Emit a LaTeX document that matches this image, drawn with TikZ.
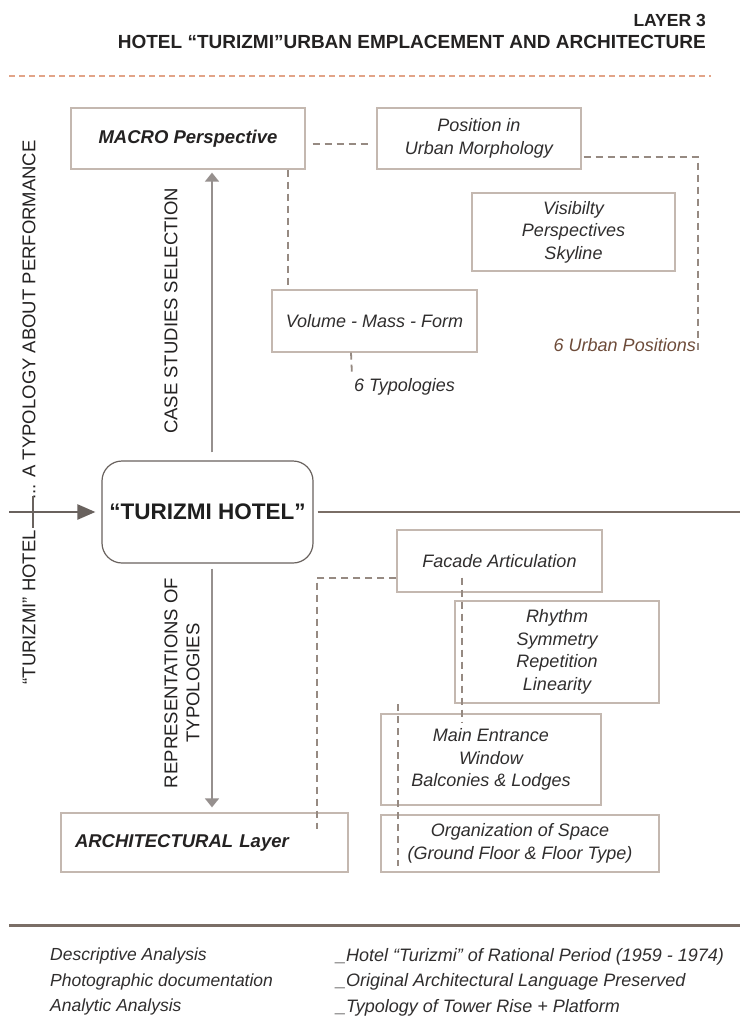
\documentclass[tikz,border=0pt]{standalone}
\usepackage{fontspec}
\setmainfont{Liberation Sans}
\usetikzlibrary{calc,arrows.meta}
\definecolor{boxc}{RGB}{196,184,176}
\definecolor{textc}{RGB}{48,46,46}
\definecolor{vtextc}{RGB}{36,34,34}
\definecolor{dashc}{RGB}{150,138,130}
\definecolor{topdash}{RGB}{226,164,136}
\definecolor{arrc}{RGB}{150,144,142}
\definecolor{darkarr}{RGB}{105,98,94}
\definecolor{linec}{RGB}{122,110,102}
\definecolor{brownt}{RGB}{110,76,58}
\tikzset{
  box/.style={draw=boxc,line width=1.3pt,inner sep=0pt,text=textc,
    font=\itshape\fontsize{18}{22.5}\selectfont,align=center},
  dashconn/.style={draw=dashc,line width=1.8pt,dash pattern=on 7pt off 5pt},
  vtext/.style={rotate=90,text=vtextc,font=\fontsize{18.5}{22}\selectfont,inner sep=0pt},
  bottomtext/.style={text=textc,font=\itshape\fontsize{17.5}{25.5}\selectfont,align=left,inner sep=0pt},
  uparrow/.style={draw=arrc,line width=1.8pt,-{Triangle[width=14pt,length=9pt]}},
}
\begin{document}
\begin{tikzpicture}[x=1pt,y=-1pt]
\useasboundingbox[fill=white] (0,0) rectangle (740,1019);
% title
\node[anchor=east,inner sep=0pt,text=vtextc,font=\bfseries\fontsize{17.5}{20}\selectfont] (t1) at (706,20) {LAYER 3};
\node[anchor=east,inner sep=0pt,text=vtextc,font=\bfseries\fontsize{19}{20}\selectfont] (t2) at (706,42) {HOTEL “TURIZMI”URBAN EMPLACEMENT AND ARCHITECTURE};
\coordinate (td1) at (9,76);
\coordinate (td2) at (711,76);
\draw[draw=topdash,line width=1.5pt,dash pattern=on 6pt off 4pt] (td1) -- (td2);

% boxes
\node[box,minimum width=234pt,minimum height=61pt,text=vtextc,font=\bfseries\itshape\fontsize{18.5}{22}\selectfont] (macro) at (188,138.5) {MACRO Perspective};
\node[box,minimum width=204pt,minimum height=61pt] (pos) at (479,138.5) {Position in\\Urban Morphology};
\node[box,minimum width=203pt,minimum height=78pt] (vis) at (573.5,232) {Visibilty\\Perspectives\\Skyline};
\node[box,minimum width=205pt,minimum height=62pt] (vol) at (374.5,321) {Volume - Mass - Form};
\node[anchor=west,inner sep=0pt,text=textc,font=\itshape\fontsize{18}{22}\selectfont] (typ) at (354,387) {6 Typologies};
\node[anchor=east,inner sep=0pt,text=brownt,font=\itshape\fontsize{18}{22}\selectfont] (urb) at (696,345) {6 Urban Positions};

\node[draw=darkarr,line width=1.2pt,rounded corners=20pt,minimum width=211pt,minimum height=102pt,inner sep=0pt,text=black!88,font=\bfseries\fontsize{22.5}{26}\selectfont] (tur) at (207.5,512) {“TURIZMI HOTEL”};

\node[box,minimum width=205pt,minimum height=62pt] (fac) at (499.5,561) {Facade Articulation};
\node[box,minimum width=204pt,minimum height=102pt] (rhy) at (557,652) {Rhythm\\Symmetry\\Repetition\\Linearity};
\node[box,minimum width=220pt,minimum height=91pt] (main) at (491,759.5) {Main Entrance\\Window\\Balconies \& Lodges};
\node[box,minimum width=278pt,minimum height=57pt] (org) at (520,843.5) {Organization of Space\\(Ground Floor \& Floor Type)};
\node[box,text width=259pt,inner xsep=14pt,minimum height=59pt,align=left,text=vtextc,font=\bfseries\itshape\fontsize{18.5}{22}\selectfont] (arch) at (204.5,842.5) {ARCHITECTURAL Layer};

% vertical texts
\node[vtext] (cs) at (171,311) {CASE STUDIES SELECTION};
\node[vtext,align=center] (rep) at (182,683) {REPRESENTATIONS OF\\TYPOLOGIES};
\node[vtext,anchor=east] (lt1) at (29,530) {“TURIZMI” HOTEL};
\node[vtext,anchor=west] (lt2) at (29,500) {... A TYPOLOGY ABOUT PERFORMANCE};

% arrows
\coordinate (ax) at (212,0);
\draw[uparrow,shorten <=8pt,shorten >=3pt] (tur.north -| ax) -- (macro.south -| ax);
\draw[uparrow,shorten <=5pt,shorten >=5pt] (tur.south -| ax) -- (arch.north -| ax);
\coordinate (la) at (9,512);
\draw[draw=darkarr,line width=2.4pt,-{Triangle[width=15pt,length=18pt]},shorten >=6pt] (la) -- (tur.west);
\coordinate (tk1) at (33,496);
\coordinate (tk2) at (33,528);
\draw[draw=darkarr,line width=1.2pt] (tk1) -- (tk2);
\coordinate (ra) at (740,512);
\draw[draw=linec,line width=2pt,shorten <=4pt] (tur.east) -- (ra);

% dashed connectors
\draw[dashconn] ([xshift=7pt,yshift=-5.5pt]macro.east) -- ([xshift=-5pt,yshift=-5.5pt]pos.west);
\draw[dashconn] ([xshift=2pt,yshift=-18.5pt]pos.east) -| ([xshift=2pt,yshift=-2pt]urb.south east);
\draw[dashconn] ([xshift=100pt]macro.south) -- ([xshift=-86.5pt]vol.north);
\draw[dashconn] ([xshift=-23.5pt]vol.south) -- ([xshift=-2pt,yshift=3pt]typ.north west);
\draw[dashconn] ([yshift=-17pt]fac.west) -| ([xshift=112.5pt,yshift=-17pt]arch.north);
\draw[dashconn] ([xshift=-37.5pt,yshift=15pt]fac.south) -- ([xshift=-29pt,yshift=-9pt]main.north);
\draw[dashconn] ([xshift=-93pt,yshift=9pt]main.north) -- ([xshift=-122pt,yshift=7pt]org.south);

% bottom
\coordinate (b1) at (9,925);
\coordinate (b2) at (740,925);
\draw[draw=linec,line width=3pt] (b1) -- (b2);
\node[bottomtext,anchor=north west] (bl) at (50,948) {Descriptive Analysis\\Photographic documentation\\Analytic Analysis};
\node[bottomtext,anchor=north west,font=\itshape\fontsize{18}{25.5}\selectfont] (br) at (336,948) {\_Hotel “Turizmi” of Rational Period (1959 - 1974)\\\_Original Architectural Language Preserved\\\_Typology of Tower Rise + Platform};
\end{tikzpicture}
\end{document}
